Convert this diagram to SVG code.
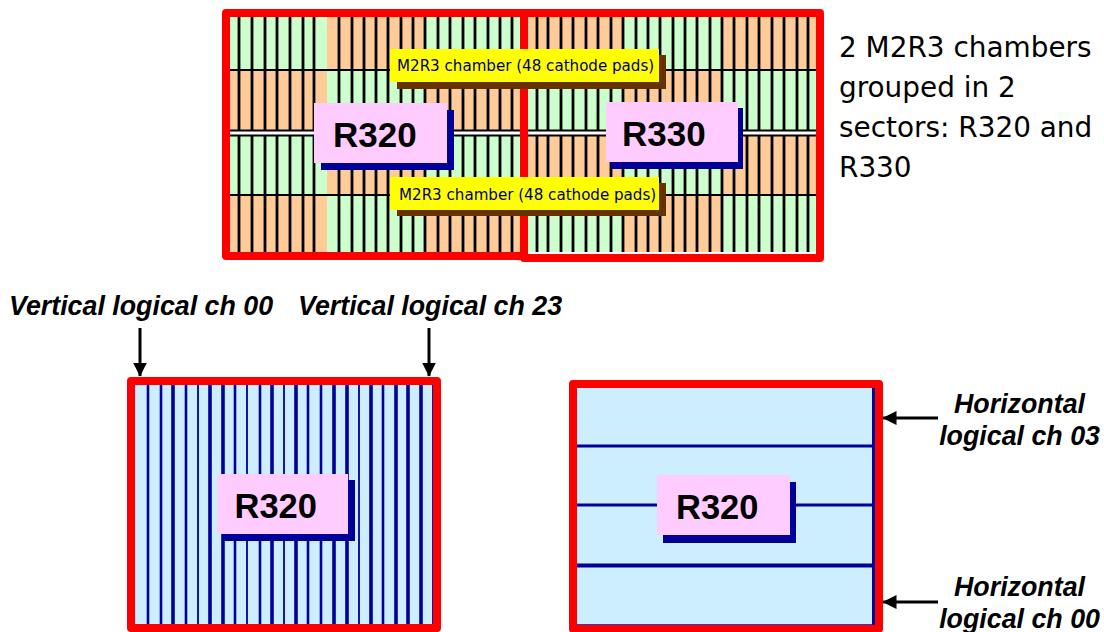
<svg xmlns="http://www.w3.org/2000/svg" width="1104" height="632" viewBox="0 0 1104 632">
<style>
.g{fill:#ccffcc}.o{fill:#ffcc99}.k{stroke:#000;stroke-width:2.8;fill:none}
.h{stroke:#000;stroke-width:2;fill:none}
.n{stroke:#000099;fill:none}
.fr{fill:none;stroke:#ff0000;stroke-width:8;stroke-linejoin:round}
.p{fill:#ffccff}.s{fill:#000099}.y{fill:#ffff00}.b{fill:#663300}
.big{font-family:"Liberation Sans",Arial,sans-serif;font-weight:700;fill:#000}
.sm{font-family:"DejaVu Sans",sans-serif;font-size:15.1px;fill:#000066}
.note{font-family:"DejaVu Sans",sans-serif;font-size:27.9px;fill:#000}
.it{font-family:"Liberation Sans",Arial,sans-serif;font-weight:700;font-style:italic;font-size:26.8px;fill:#000}
.ar{stroke:#000;stroke-width:3;fill:none}
</style>
<defs><marker id="ah" markerUnits="userSpaceOnUse" markerWidth="14" markerHeight="14" refX="13.500" refY="7" orient="auto"><path d="M0 0L14 7L0 14Z" fill="#000"/></marker></defs>
<rect width="1104" height="632" fill="#fff"/>
<g id="sectors">
<rect class="g" x="229" y="16" width="98" height="54"/><rect class="o" x="327" y="16" width="98" height="54"/><rect class="g" x="425" y="16" width="99" height="54"/>
<rect class="o" x="229" y="70" width="98" height="61"/><rect class="g" x="327" y="70" width="98" height="61"/><rect class="o" x="425" y="70" width="99" height="61"/>
<rect class="g" x="229" y="135" width="98" height="60"/><rect class="o" x="327" y="135" width="98" height="60"/><rect class="g" x="425" y="135" width="99" height="60"/>
<rect class="o" x="229" y="195" width="98" height="57"/><rect class="g" x="327" y="195" width="98" height="57"/><rect class="o" x="425" y="195" width="99" height="57"/>
<rect class="o" x="524" y="16" width="99" height="54"/><rect class="g" x="623" y="16" width="99" height="54"/><rect class="o" x="722" y="16" width="95" height="54"/>
<rect class="g" x="524" y="70" width="99" height="61"/><rect class="o" x="623" y="70" width="99" height="61"/><rect class="g" x="722" y="70" width="95" height="61"/>
<rect class="o" x="524" y="135" width="99" height="60"/><rect class="g" x="623" y="135" width="99" height="60"/><rect class="o" x="722" y="135" width="95" height="60"/>
<rect class="g" x="524" y="195" width="99" height="57"/><rect class="o" x="623" y="195" width="99" height="57"/><rect class="g" x="722" y="195" width="95" height="57"/>
<path class="k" d="M239 16V252M252 16V252M265 16V252M277 16V252M290 16V252M303 16V252M314 16V252M339 16V252M352 16V252M364 16V252M376 16V252M388 16V252M401 16V252M413 16V252M425 16V252M438 16V252M450 16V252M463 16V252M475 16V252M488 16V252M500 16V252M512 16V252M537 16V252M548 16V252M561 16V252M573 16V252M586 16V252M598 16V252M611 16V252M623 16V252M636 16V252M648 16V252M660 16V252M673 16V252M685 16V252M697 16V252M710 16V252M722 16V252M734 16V252M747 16V252M759 16V252M772 16V252M784 16V252M797 16V252M808 16V252"/>
<path class="h" d="M229 70H817M229 195H817"/>
<rect x="229" y="131" width="588" height="4" fill="#fff"/>
<path class="h" d="M229 130.500H817M229 135.500H817"/>
<rect class="fr" x="226" y="13" width="298" height="243"/>
<rect class="fr" x="524" y="13" width="296" height="245"/>
</g>
<g id="R320-top"><path class="s" d="M321 110H454V170H321Z"/><rect class="p" x="314" y="103" width="133" height="60"/><text class="big" x="333" y="147" font-size="35">R320</text></g>
<g id="R330-top"><path class="s" d="M611 108H743V169H611Z"/><rect class="p" x="606" y="102" width="132" height="60"/><text class="big" x="622" y="146" font-size="35">R330</text></g>
<g id="chamber-top"><rect class="b" x="397" y="55" width="269" height="34"/><rect class="y" x="390" y="49" width="269" height="33"/><text class="sm" x="397" y="71">M2R3 chamber (48 cathode pads)</text></g>
<g id="chamber-bottom"><rect class="b" x="397" y="183" width="269" height="33"/><rect class="y" x="390" y="177" width="269" height="33"/><text class="sm" x="399" y="200">M2R3 chamber (48 cathode pads)</text></g>
<g id="note"><text class="note" x="839" y="57">2 M2R3 chambers</text><text class="note" x="839" y="97">grouped in 2</text><text class="note" x="839" y="137">sectors: R320 and</text><text class="note" x="839" y="177">R330</text></g>
<g id="vertical-sector">
<rect x="131" y="381" width="306" height="247" fill="#cceeff"/>
<path class="n" stroke-width="1.800" d="M198 381V628M247 381V628M284 381V628M359 381V628M433 381V628"/>
<path class="n" stroke-width="2.600" d="M148 381V628M161 381V628M186 381V628M235 381V628M260 381V628M308 381V628M321 381V628M383 381V628"/>
<path class="n" stroke-width="3.600" d="M173 381V628M210 381V628M223 381V628M272 381V628M296 381V628M334 381V628M347 381V628M371 381V628M396 381V628M408 381V628M421 381V628"/>
<rect class="fr" x="131" y="381" width="306" height="247"/>
<path class="s" d="M222 480H355V541H222Z"/><rect class="p" x="217" y="474" width="131" height="60"/><text class="big" x="234.500" y="518" font-size="34.500">R320</text>
</g>
<g id="horizontal-sector">
<rect x="573" y="384" width="306" height="244" fill="#cceeff"/>
<path class="n" stroke-width="3" d="M577 446H873M577 505H873"/><path class="n" stroke-width="4" d="M577 565.500H873"/><path class="n" stroke-width="3" d="M873.500 388V625"/><path class="n" stroke-width="1.500" d="M577 625H875"/>
<rect class="fr" x="573" y="384" width="306" height="245"/>
<path class="s" d="M663 482H796V543H663Z"/><rect class="p" x="657" y="475" width="133" height="60"/><text class="big" x="676" y="519" font-size="34.500">R320</text>
</g>
<g id="connectors">
<path class="ar" marker-end="url(#ah)" d="M140 328V376"/><path class="ar" marker-end="url(#ah)" d="M429 328V376"/>
<path class="ar" marker-end="url(#ah)" d="M938 418H883"/><path class="ar" marker-end="url(#ah)" d="M938 602H883"/>
</g>
<g id="labels">
<text class="it" x="9" y="315">Vertical logical ch 00</text><text class="it" x="298" y="315">Vertical logical ch 23</text>
<text class="it" text-anchor="end" x="1085" y="413">Horizontal</text><text class="it" text-anchor="end" x="1100" y="445">logical ch 03</text>
<text class="it" text-anchor="end" x="1085" y="596">Horizontal</text><text class="it" text-anchor="end" x="1100" y="628">logical ch 00</text>
</g>
</svg>
